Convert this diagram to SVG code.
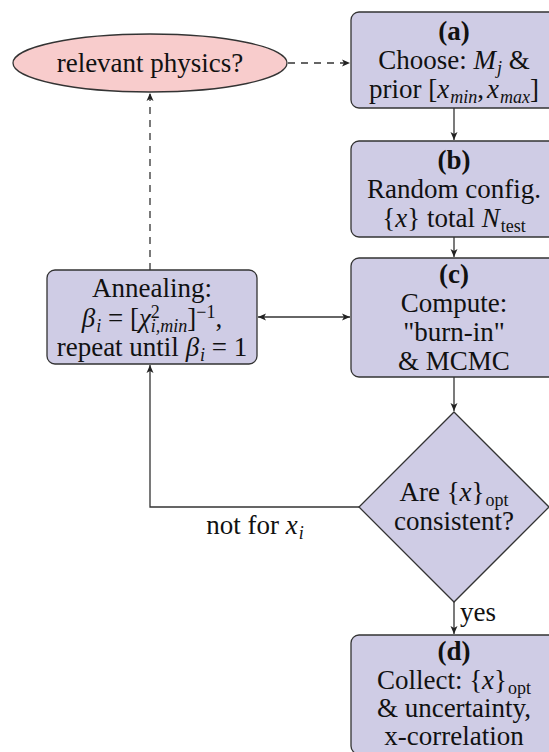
<svg xmlns="http://www.w3.org/2000/svg" width="549" height="752" viewBox="0 0 549 752">
<style>
.box{fill:#cfcce5;stroke:#333;stroke-width:1.3}
.ell{fill:#f8cccc;stroke:#333;stroke-width:1.3}
.t{font-family:"Liberation Serif","Times New Roman",serif;font-size:27px;fill:#111;text-anchor:middle}
.b{font-weight:bold}
.i{font-style:italic}
.s{font-size:18px}
.c{fill:none;stroke:#333;stroke-width:1.3}
.d{stroke-dasharray:7 6}
</style>
<defs>
<marker id="ah" markerUnits="userSpaceOnUse" markerWidth="10" markerHeight="8" refX="8" refY="4" orient="auto-start-reverse">
<path d="M0,0.5 L8,4 L0,7.5 L2,4 z" fill="#222"/>
</marker>
</defs>
<g id="connectors">
<line class="c d" x1="288" y1="63" x2="350" y2="63" marker-end="url(#ah)"/>
<line class="c d" x1="150" y1="270" x2="150" y2="93" marker-end="url(#ah)"/>
<line class="c" x1="454" y1="108" x2="454" y2="140" marker-end="url(#ah)"/>
<line class="c" x1="454" y1="237" x2="454" y2="257" marker-end="url(#ah)"/>
<line class="c" x1="258" y1="317" x2="350" y2="317" marker-start="url(#ah)" marker-end="url(#ah)"/>
<line class="c" x1="454" y1="377" x2="454" y2="411" marker-end="url(#ah)"/>
<line class="c" x1="454" y1="602" x2="454" y2="634" marker-end="url(#ah)"/>
<polyline class="c" points="359,507 150,507 150,365" marker-end="url(#ah)"/>
<text class="t" x="255" y="534">not for <tspan class="i">x</tspan><tspan class="i s" dx="1" dy="5">i</tspan></text>
<text class="t" x="478" y="621">yes</text>
</g>
<g id="physics">
<ellipse class="ell" cx="150" cy="63" rx="137" ry="29"/>
<text class="t" x="150" y="72">relevant physics?</text>
</g>
<g id="a">
<rect class="box" x="351" y="12" width="206" height="96" rx="8"/>
<text class="t b" x="454" y="40">(a)</text>
<text class="t" x="454" y="69">Choose:  <tspan class="i">M</tspan><tspan class="i s" dx="1" dy="5">j</tspan><tspan dy="-5"> &amp;</tspan></text>
<text class="t" x="454" y="98">prior [<tspan class="i">x</tspan><tspan class="i s" dx="1" dy="5">min</tspan><tspan dy="-5">,</tspan><tspan class="i" dx="3">x</tspan><tspan class="i s" dx="1" dy="5">max</tspan><tspan dy="-5">]</tspan></text>
</g>
<g id="b">
<rect class="box" x="351" y="141" width="206" height="96" rx="8"/>
<text class="t b" x="454" y="169">(b)</text>
<text class="t" x="454" y="198">Random config.</text>
<text class="t" x="454" y="227">{<tspan class="i">x</tspan>} total <tspan class="i">N</tspan><tspan class="s" dx="1" dy="5">test</tspan></text>
</g>
<g id="c">
<rect class="box" x="351" y="258" width="206" height="119" rx="8"/>
<text class="t b" x="454" y="283">(c)</text>
<text class="t" x="454" y="312">Compute:</text>
<text class="t" x="454" y="341">"burn-in"</text>
<text class="t" x="454" y="370">&amp; MCMC</text>
</g>
<g id="annealing">
<rect class="box" x="47" y="270" width="210" height="94" rx="8"/>
<text class="t" x="152" y="297">Annealing:</text>
<text class="t" x="152" y="327"><tspan class="i">β</tspan><tspan class="i s" dx="1" dy="5">i</tspan><tspan dy="-5"> = [</tspan><tspan class="i">χ</tspan><tspan class="s" dy="-9">2</tspan><tspan class="i s" dx="-9" dy="14">i,min</tspan><tspan dy="-5">]</tspan><tspan class="s" dy="-9">−1</tspan><tspan dy="9">,</tspan></text>
<text class="t" x="152" y="356">repeat until <tspan class="i">β</tspan><tspan class="i s" dx="1" dy="5">i</tspan><tspan dy="-5"> = 1</tspan></text>
</g>
<g id="consistent">
<polygon class="box" points="454,412 549,507 454,602 359,507"/>
<text class="t" x="454" y="501">Are {<tspan class="i">x</tspan>}<tspan class="s" dx="1" dy="5">opt</tspan></text>
<text class="t" x="454" y="530">consistent?</text>
</g>
<g id="d">
<rect class="box" x="351" y="635" width="206" height="119" rx="8"/>
<text class="t b" x="454" y="660">(d)</text>
<text class="t" x="454" y="689">Collect:  {<tspan class="i">x</tspan>}<tspan class="s" dx="1" dy="5">opt</tspan></text>
<text class="t" x="454" y="717">&amp; uncertainty,</text>
<text class="t" x="454" y="745">x-correlation</text>
</g>
</svg>
